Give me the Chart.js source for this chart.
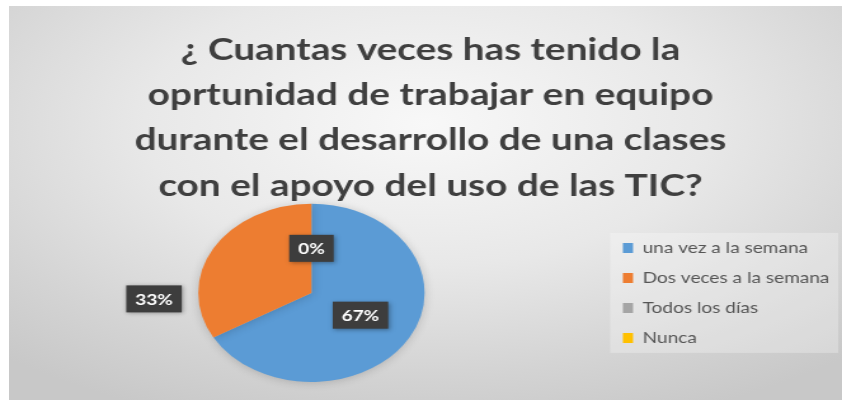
<!DOCTYPE html>
<html>
<head>
<meta charset="utf-8">
<script src="https://cdn.jsdelivr.net/npm/chart.js@4.4.1/dist/chart.umd.min.js"></script>
<style>
  html, body { margin: 0; padding: 0; background: #ffffff; }
  #wrap { position: relative; width: 842px; height: 400px; overflow: hidden; }
  #panel {
    position: absolute; left: 9px; top: 6px; width: 833px; height: 394px;
    background: radial-gradient(ellipse 75% 80% at 50% 30%, #f8f8f8 0%, #e8e8e8 45%, #d3d3d3 80%, #c8c8c8 100%);
  }
  #c { position: absolute; left: 0; top: 0; transform: scaleX(1.27); transform-origin: 0 0; }
</style>
</head>
<body>
<div id="wrap">
  <div id="panel"></div>
  <canvas id="c" width="663" height="400" style="width:663px;height:400px"></canvas>
</div>
<script>
const titleLines = [
  "¿ Cuantas veces has tenido la",
  "oprtunidad de trabajar en equipo",
  "durante el desarrollo de una clases",
  "con el apoyo del uso de las TIC?"
];
const categories = ["una vez a la semana", "Dos veces a la semana", "Todos los días", "Nunca"];
const responses = [2, 1, 0, 0];
const percentLabels = ["67%", "33%", "0%", "0%"];
const sliceColors = ["#5B9BD5", "#ED7D31", "#A5A5A5", "#FFC000"];

const decorPlugin = {
  id: 'decor',
  beforeDraw(chart) {
    const lg = chart.legend;
    if (!lg || !lg.legendHitBoxes || !lg.legendHitBoxes.length) return;
    const hb = lg.legendHitBoxes;
    const top = hb[0].top + hb[0].height / 2 - 15;
    const last = hb[hb.length - 1];
    const bottom = last.top + last.height / 2 + 15;
    const left = hb[0].left - 10;
    const right = chart.width - 3;
    const ctx = chart.ctx;
    ctx.save();
    ctx.fillStyle = 'rgba(255,255,255,0.28)';
    ctx.fillRect(left, top, right - left, bottom - top);
    ctx.restore();
  },
  beforeDatasetsDraw(chart) {
    const ctx = chart.ctx;
    ctx.save();
    ctx.shadowColor = 'rgba(0,0,0,0.18)';
    ctx.shadowBlur = 8;
    ctx.shadowOffsetY = 1;
  },
  afterDatasetsDraw(chart) {
    const ctx = chart.ctx;
    ctx.restore();
    const meta = chart.getDatasetMeta(0);
    const arc0 = meta.data[0];
    const cx = arc0.x, cy = arc0.y, r = arc0.outerRadius;
    ctx.save();
    ctx.font = 'bold 15px Lato';
    ctx.textAlign = 'center';
    ctx.textBaseline = 'middle';
    meta.data.forEach((arc, i) => {
      if (i === 3) return; // a single 0% label is shown at the top
      const txt = percentLabels[i];
      const w = ctx.measureText(txt).width + 14;
      const h = 27;
      let x, y;
      if (i === 1) {
        x = cx - r - 13 - w / 2;
        y = cy + 6;
      } else {
        const mid = (arc.startAngle + arc.endAngle) / 2;
        x = cx + Math.cos(mid) * r * 0.5;
        y = cy + Math.sin(mid) * r * 0.5;
      }
      ctx.save();
      ctx.shadowColor = 'rgba(0,0,0,0.35)';
      ctx.shadowBlur = 4;
      ctx.shadowOffsetX = 1;
      ctx.shadowOffsetY = 1;
      ctx.fillStyle = '#3d3d3d';
      ctx.fillRect(x - w / 2, y - h / 2, w, h);
      ctx.restore();
      ctx.fillStyle = '#ffffff';
      ctx.fillText(txt, x, y + 1);
    });
    ctx.restore();
  }
};

new Chart(document.getElementById('c'), {
  type: 'pie',
  data: {
    labels: categories,
    datasets: [{
      data: responses,
      backgroundColor: sliceColors,
      borderWidth: 0,
      clip: false
    }]
  },
  options: {
    responsive: false,
    animation: false,
    events: [],
    layout: { padding: { left: 15, right: 0, top: 0, bottom: 18 } },
    plugins: {
      title: {
        display: true,
        text: titleLines,
        color: '#3f3f3f',
        font: { family: 'Lato', size: 30.5, weight: 'bold', lineHeight: 1.49 },
        padding: { top: 27, bottom: -5 }
      },
      legend: {
        display: true,
        position: 'right',
        align: 'center',
        fullSize: false,
        labels: {
          color: '#555555',
          font: { family: 'Lato', size: 15 },
          boxWidth: 8,
          boxHeight: 10,
          padding: 15
        }
      },
      tooltip: { enabled: false }
    }
  },
  plugins: [decorPlugin]
});
</script>
</body>
</html>
